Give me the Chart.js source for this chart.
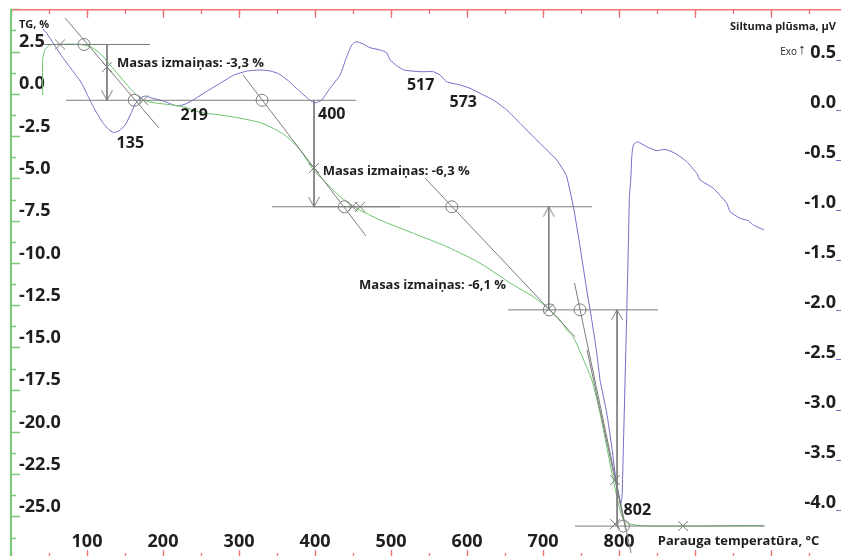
<!DOCTYPE html>
<html>
<head>
<meta charset="utf-8">
<script src="https://cdn.jsdelivr.net/npm/chart.js@4.4.1/dist/chart.umd.min.js"></script>
<style>
  html, body { margin: 0; padding: 0; background: #fff; overflow: hidden; }
  #wrap { width: 841px; height: 556px; position: relative; }
</style>
</head>
<body>
<div id="wrap"><canvas id="c" width="841" height="556"></canvas></div>
<script>
// ---- Axis ticks -------------------------------------------------------
const tempMajorTicks = [0, 100, 200, 300, 400, 500, 600, 700, 800, 900, 1000];
const tempMinorTicks = [0, 50, 100, 150, 200, 250, 300, 350, 400, 450, 500, 550, 600, 650, 700, 750, 800, 850, 900, 950, 1000, 1050];
const tempLabelled = [100, 200, 300, 400, 500, 600, 700, 800];
const tgMajorTicks = [-25, -22.5, -20, -17.5, -15, -12.5, -10, -7.5, -5, -2.5, 0, 2.5, 5];
const tgMinorTicks = [-26.25, -23.75, -21.25, -18.75, -16.25, -13.75, -11.25, -8.75, -6.25, -3.75, -1.25, 1.25, 3.75];
const tgLabelled = [-25, -22.5, -20, -17.5, -15, -12.5, -10, -7.5, -5, -2.5, 0, 2.5];
const dscTicks = [-4, -3.5, -3, -2.5, -2, -1.5, -1, -0.5, 0, 0.5];

// ---- TG curve (mass change, %) -----------------------------------------
const tgTemp = [41.7, 41.7, 44.7, 51.3, 64.5, 90.8, 103.9, 117.1, 130.3, 143.4, 156.6, 165.4, 174.1, 187.2, 204.9, 226.7, 248.7, 275.0, 301.3, 327.6, 345.1, 362.8, 380.3, 397.8, 410.9, 432.9, 454.9, 485.5, 529.3, 573.3, 617.1, 660.9, 687.2, 709.2, 722.4, 731.2, 739.9, 748.7, 764.1, 775.0, 783.8, 792.5, 799.1, 805.7, 814.5, 832.0, 853.9, 989.9];
const tgValue = [-0.04, 2.04, 2.63, 2.92, 2.96, 2.96, 2.82, 2.43, 1.74, 1.05, 0.36, -0.04, -0.33, -0.49, -0.59, -0.73, -1.06, -1.22, -1.41, -1.67, -2.01, -2.50, -3.29, -4.47, -5.07, -6.05, -6.74, -7.43, -8.22, -9.01, -9.99, -11.28, -11.97, -12.76, -13.35, -13.94, -14.36, -15.22, -16.90, -18.87, -20.85, -22.82, -24.20, -25.18, -25.42, -25.52, -25.54, -25.50];

// ---- DSC curve (heat flow, µV) -----------------------------------------
const dscTemp = [41.7, 47.0, 55.7, 68.8, 82.0, 93.0, 101.7, 110.5, 121.4, 128.5, 135.0, 142.0, 150.3, 156.9, 163.5, 170.1, 176.7, 185.2, 200.4, 210.6, 219.0, 229.5, 241.7, 258.2, 275.8, 293.3, 310.8, 328.4, 341.6, 352.9, 363.5, 378.0, 393.0, 400.0, 408.8, 419.7, 432.9, 441.7, 448.3, 453.9, 463.6, 472.4, 485.5, 494.3, 498.7, 507.5, 517.0, 538.2, 555.7, 564.5, 573.0, 590.8, 604.0, 617.1, 634.6, 652.2, 669.7, 687.2, 704.9, 718.0, 726.7, 731.2, 739.9, 748.7, 757.5, 764.1, 770.7, 775.0, 783.8, 790.4, 794.7, 799.1, 802.0, 803.9, 805.7, 807.9, 810.1, 812.2, 813.6, 815.4, 816.7, 818.8, 824.1, 836.4, 849.6, 860.5, 873.7, 889.1, 902.2, 906.6, 924.1, 941.7, 946.1, 959.2, 970.1, 976.7, 990.8];
const dscValue = [0.81, 0.767, 0.667, 0.517, 0.383, 0.267, 0.133, 0.0, -0.133, -0.195, -0.225, -0.21, -0.15, -0.05, 0.06, 0.12, 0.14, 0.12, 0.09, 0.06, 0.04, 0.06, 0.11, 0.19, 0.27, 0.35, 0.39, 0.40, 0.39, 0.36, 0.30, 0.20, 0.10, 0.07, 0.10, 0.217, 0.35, 0.533, 0.65, 0.683, 0.66, 0.623, 0.60, 0.573, 0.50, 0.443, 0.40, 0.383, 0.383, 0.35, 0.283, 0.25, 0.217, 0.167, 0.10, 0.0, -0.133, -0.267, -0.40, -0.50, -0.60, -0.667, -0.967, -1.367, -1.80, -2.10, -2.433, -2.70, -3.03, -3.367, -3.63, -3.83, -3.95, -3.867, -3.367, -2.70, -2.03, -1.367, -0.867, -0.70, -0.467, -0.35, -0.317, -0.367, -0.407, -0.393, -0.433, -0.517, -0.633, -0.70, -0.783, -0.933, -1.017, -1.083, -1.107, -1.15, -1.20];

// ---- Mass-change evaluation -------------------------------------------
const massLevels = [2.95, -0.35, -6.65, -12.75, -25.54];      // plateau levels, %
const massArrowTemp = [126.3, 398.7, 707.5, 797.4];            // where each step arrow stands
const massLabelTemp = [139.5, 410.1, 457.9];                   // step label anchors
const massLabelTg = [2.0, -4.41, -11.13];
// horizontal level lines: [T start, T end, level index]
const levelLines = [[43.4, 182.9, 0], [72.4, 453.9, 1], [343.4, 764.5, 2], [397.4, 511.8, 2], [653.9, 851.3, 3], [742.1, 992.1, 4]];
// tangents: [T1, TG1, T2, TG2]
const tangentLines = [
  [71.1, 4.52, 194.7, -1.99],
  [305.3, 1.148, 467.1, -8.38],
  [544.7, -4.95, 742.1, -14.34],
  [741.4, -11.16, 815.8, -27.13],
  [757.9, -15.12, 808.9, -25.77]
];
const onsetCircleTemp = [96.1, 162.2, 330.3, 438.6, 579.9, 708.3, 748.7, 805.7];
const onsetCircleTg = [2.95, -0.35, -0.35, -6.65, -6.65, -12.75, -12.75, -25.54];
const crossTemp = [64.5, 174.1, 126.3, 398.7, 449.3, 459.2, 707.5, 794.7, 794.7, 884.2];
const crossTg = [2.95, -0.35, 1.613, -4.352, -6.65, -6.65, -12.69, -22.82, -25.42, -25.54];

// ---- DSC peak temperatures ---------------------------------------------
const peakTemps = [135, 219, 400, 517, 573, 802];
const peakLabelDsc = [-0.31, -0.025, -0.017, 0.27, 0.10, -3.98];

// ---- Styling ------------------------------------------------------------
const FONT = '"Open Sans", "Noto Sans", sans-serif';
const TXT = '#1e1e1e';
const RED = '#f07474';
const GREEN = '#6cc46c';
const BLUE = '#6d6dc8';
const GUIDE = '#7c7c7c';
const TEXT_NUDGE = 2.5;   // Open Sans sits a little high on a 'middle' baseline

const fitZero = s => {
  if (s.isHorizontal()) s.height = 0; else s.width = 0;
  s.paddingLeft = s.paddingRight = s.paddingTop = s.paddingBottom = 0;
};
const fixedTicks = vals => s => { s.ticks = vals.map(v => ({ value: v })); };

function arrowHead() {
  const c = document.createElement('canvas');
  c.width = 14; c.height = 22;
  const g = c.getContext('2d');
  g.strokeStyle = GUIDE; g.lineWidth = 1;
  g.beginPath(); g.moveTo(1.5, 1); g.lineTo(7, 11); g.lineTo(12.5, 1); g.stroke();
  return c;
}
const HEAD = arrowHead();

const datasets = [];
// guide lines first so the curves sit on top
levelLines.forEach(([a, b, k]) => datasets.push({
  data: [{ x: a, y: massLevels[k] }, { x: b, y: massLevels[k] }],
  yAxisID: 'yTG', borderColor: GUIDE, borderWidth: 1, pointRadius: 0, showLine: true
}));
tangentLines.forEach(([a, ya, b, yb]) => datasets.push({
  data: [{ x: a, y: ya }, { x: b, y: yb }],
  yAxisID: 'yTG', borderColor: GUIDE, borderWidth: 1, pointRadius: 0, showLine: true
}));
massArrowTemp.forEach((t, i) => {
  const top = massLevels[i], bottom = massLevels[i + 1];
  const downward = i < 2;
  datasets.push({
    data: [{ x: t, y: top }, { x: t, y: bottom }],
    yAxisID: 'yTG', borderColor: GUIDE, borderWidth: 1, showLine: true,
    pointStyle: HEAD,
    pointRadius: ctx => (downward ? ctx.dataIndex === 1 : ctx.dataIndex === 0) ? 7 : 0,
    pointRotation: downward ? 0 : 180
  });
});
datasets.push({
  data: onsetCircleTemp.map((t, i) => ({ x: t, y: onsetCircleTg[i] })),
  yAxisID: 'yTG', showLine: false, pointStyle: 'circle', pointRadius: 6,
  borderColor: GUIDE, borderWidth: 1, backgroundColor: 'rgba(0,0,0,0)'
});
datasets.push({
  data: crossTemp.map((t, i) => ({ x: t, y: crossTg[i] })),
  yAxisID: 'yTG', showLine: false, pointStyle: 'crossRot', pointRadius: 7,
  borderColor: GUIDE, borderWidth: 1
});
datasets.push({
  label: 'TG',
  data: tgTemp.map((t, i) => ({ x: t, y: tgValue[i] })),
  yAxisID: 'yTG', borderColor: GREEN, borderWidth: 1, pointRadius: 0, showLine: true, tension: 0.25
});
datasets.push({
  label: 'DSC',
  data: dscTemp.map((t, i) => ({ x: t, y: dscValue[i] })),
  yAxisID: 'yDSC', borderColor: BLUE, borderWidth: 1, pointRadius: 0, showLine: true, tension: 0.15
});
datasets.forEach(d => { d.xAxisID = 'x'; d.type = 'scatter'; });

const fmtPct = v => v.toFixed(1).replace('.', ',');

const annotations = {
  id: 'annotations',
  afterDatasetsDraw(chart) {
    const { ctx, chartArea: a, scales } = chart;
    const x = scales.x, tg = scales.yTG, dsc = scales.yDSC;
    ctx.save();
    ctx.fillStyle = TXT;
    ctx.textBaseline = 'middle';
    ctx.textAlign = 'left';
    // peak temperatures of the DSC curve
    ctx.font = 'bold 16px ' + FONT;
    peakTemps.forEach((t, i) => ctx.fillText(String(t), x.getPixelForValue(t) + 3, dsc.getPixelForValue(peakLabelDsc[i]) + TEXT_NUDGE));
    // mass change per step
    ctx.font = 'bold 13px ' + FONT;
    massLabelTemp.forEach((t, i) => {
      const change = massLevels[i + 1] - massLevels[i];
      ctx.fillText('Masas izmaiņas: ' + fmtPct(change) + ' %', x.getPixelForValue(t), tg.getPixelForValue(massLabelTg[i]) + TEXT_NUDGE);
    });
    // axis titles
    ctx.font = 'bold 11px ' + FONT;
    ctx.fillText('TG, %', a.left + 8, a.top + 15);
    ctx.textAlign = 'right';
    ctx.fillText('Siltuma plūsma, µV', a.right - 5, a.top + 17);
    const yExo = dsc.getPixelForValue(0.5) - 9;
    ctx.textAlign = 'center';
    ctx.font = '15px ' + FONT;
    ctx.fillText('↑', a.right - 39, yExo - 1);
    ctx.textAlign = 'right';
    ctx.font = '10px ' + FONT;
    ctx.fillText('Exo', a.right - 44, yExo + 1);
    ctx.textAlign = 'left';
    ctx.font = 'bold 13px ' + FONT;
    ctx.fillText('Parauga temperatūra, °C', x.getPixelForValue(851), a.bottom - 15);
    ctx.restore();
  }
};

new Chart(document.getElementById('c'), {
  type: 'scatter',
  data: { datasets },
  plugins: [annotations],
  options: {
    responsive: false,
    animation: false,
    devicePixelRatio: 1,
    layout: { autoPadding: false, padding: { left: 11, top: 10, right: 0, bottom: 0 } },
    plugins: { legend: { display: false }, tooltip: { enabled: false } },
    scales: {
      x: {
        type: 'linear', position: 'bottom', min: 0, max: 1092,
        afterBuildTicks: fixedTicks(tempMajorTicks), afterFit: fitZero,
        border: { display: false },
        grid: { drawOnChartArea: false, drawTicks: true, tickLength: -6, color: RED, tickWidth: 1.3 },
        ticks: {
          autoSkip: false, maxRotation: 0, mirror: true, padding: 3, color: TXT,
          font: { family: FONT, size: 18, weight: 'bold' },
          callback: v => tempLabelled.includes(v) ? String(v) : ''
        }
      },
      xMinor: {
        type: 'linear', axis: 'x', position: 'bottom', min: 0, max: 1092,
        afterBuildTicks: fixedTicks(tempMinorTicks), afterFit: fitZero,
        border: { display: false },
        grid: { drawOnChartArea: false, drawTicks: true, tickLength: -3, color: RED, tickWidth: 1.3 },
        ticks: { autoSkip: false, callback: () => '' }
      },
      xTop: {
        type: 'linear', axis: 'x', position: 'top', min: 0, max: 1092,
        afterBuildTicks: fixedTicks(tempMajorTicks), afterFit: fitZero,
        border: { display: true, color: RED, width: 1.5 },
        grid: { drawOnChartArea: false, drawTicks: true, tickLength: -8, color: RED, tickWidth: 1.3 },
        ticks: { autoSkip: false, callback: () => '' }
      },
      xTopMinor: {
        type: 'linear', axis: 'x', position: 'top', min: 0, max: 1092,
        afterBuildTicks: fixedTicks(tempMinorTicks), afterFit: fitZero,
        border: { display: false },
        grid: { drawOnChartArea: false, drawTicks: true, tickLength: -4, color: RED, tickWidth: 1.3 },
        ticks: { autoSkip: false, callback: () => '' }
      },
      yTG: {
        type: 'linear', axis: 'y', position: 'left', min: -27.31, max: 4.99,
        afterBuildTicks: fixedTicks(tgMajorTicks), afterFit: fitZero,
        border: { display: true, color: '#78cc78', width: 2 },
        grid: { drawOnChartArea: false, drawTicks: true, tickLength: -9, color: '#78cc78', tickWidth: 1.5 },
        ticks: {
          autoSkip: false, mirror: true, padding: 8, labelOffset: -10, color: TXT,
          font: { family: FONT, size: 18, weight: 'bold' },
          callback: v => tgLabelled.includes(v) ? v.toFixed(1) : ''
        }
      },
      yTGMinor: {
        type: 'linear', axis: 'y', position: 'left', min: -27.31, max: 4.99,
        afterBuildTicks: fixedTicks(tgMinorTicks), afterFit: fitZero,
        border: { display: false },
        grid: { drawOnChartArea: false, drawTicks: true, tickLength: -5, color: '#78cc78', tickWidth: 1.5 },
        ticks: { autoSkip: false, callback: () => '' }
      },
      yDSC: {
        type: 'linear', axis: 'y', position: 'right', min: -4.46, max: 1.0,
        afterBuildTicks: fixedTicks(dscTicks), afterFit: fitZero,
        border: { display: false },
        grid: { drawOnChartArea: false, drawTicks: true, tickLength: -5, color: BLUE, tickWidth: 1 },
        ticks: {
          autoSkip: false, mirror: true, padding: -5, labelOffset: -7, color: TXT,
          font: { family: FONT, size: 18, weight: 'bold' },
          callback: v => v.toFixed(1)
        }
      }
    }
  }
});
</script>
</body>
</html>
